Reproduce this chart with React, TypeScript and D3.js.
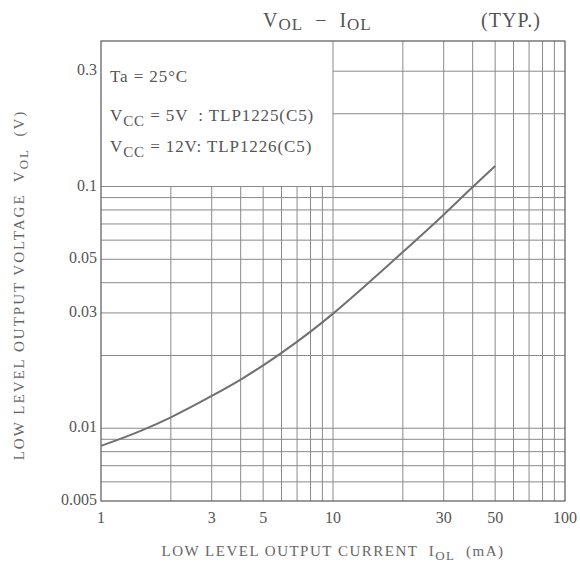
import React from "react"
import * as d3 from "d3"

// output current (mA) vs low level output voltage (V)
const currents = [1, 1.5, 2, 3, 4, 5, 6, 8, 10, 15, 20, 30, 40, 50]
const voltages = [0.00845, 0.0098, 0.0111, 0.0136, 0.0159, 0.0182, 0.0205, 0.0251, 0.0298, 0.0418, 0.0536, 0.0765, 0.0995, 0.1215]

const xTickLabels = [1, 3, 5, 10, 30, 50, 100]
const yTickLabels = [0.005, 0.01, 0.03, 0.05, 0.1, 0.3]
const legendLines = ["Ta = 25°C", "5V  : TLP1225(C5)", "12V: TLP1226(C5)"]

const W = 580
const H = 566
const margin = { left: 101, right: 15, top: 41, bottom: 65 }
const font = "'Liberation Serif', 'DejaVu Serif', serif"
const ink = "#555"
const gridColor = "#8a8a8a"
const pre = { whiteSpace: "pre" as const }

export default function App() {
  const x = d3.scaleLog().domain([1, 100]).range([margin.left, W - margin.right])
  const y = d3.scaleLog().domain([0.005, 0.4]).range([H - margin.bottom, margin.top])

  const pts: [number, number][] = currents.map((c, i) => [x(c), y(voltages[i])])
  const path = d3.line().curve(d3.curveMonotoneX)(pts) || ""

  // legend area (1..10 mA, 0.1..0.4 V) has no grid
  const vLines = x.ticks().filter(v => v > 1 && v < 100)
  const hLines = y.ticks().filter(v => v > 0.005 && v < 0.4)

  const x0 = x.range()[0], x1 = x.range()[1]
  const yb = y.range()[0], yt = y.range()[1]

  return (
    <svg width={W} height={H} style={{ position: "absolute", left: 0, top: 0, background: "#fff" }}>
      <g stroke={gridColor} strokeWidth={1}>
        {vLines.map(v => (
          <line key={"v" + v} x1={x(v)} x2={x(v)} y1={yb} y2={v < 10 ? y(0.1) : yt} />
        ))}
        {hLines.map(v => (
          <line key={"h" + v} x1={v > 0.1 ? x(10) : x0} x2={x1} y1={y(v)} y2={y(v)} />
        ))}
      </g>
      <rect x={x0} y={yt} width={x1 - x0} height={yb - yt} fill="none" stroke="#666" strokeWidth={1.3} />

      <path d={path} fill="none" stroke="#707070" strokeWidth={2} />

      <g fontFamily={font} fill={ink} fontSize={16}>
        {yTickLabels.map(v => (
          <text key={"yl" + v} x={x0 - 4} y={y(v) + 4} textAnchor="end">{v}</text>
        ))}
        {xTickLabels.map(v => (
          <text key={"xl" + v} x={x(v)} y={yb + 22} textAnchor="middle">{v}</text>
        ))}
      </g>

      <g fontFamily={font} fill={ink} fontSize={17} letterSpacing={0.9}>
        <text x={110} y={82} style={pre}>{legendLines[0]}</text>
        <text x={110} y={121} style={pre}>V<tspan fontSize={15} dy={5}>CC</tspan><tspan dy={-5}> = {legendLines[1]}</tspan></text>
        <text x={110} y={152} style={pre}>V<tspan fontSize={15} dy={5}>CC</tspan><tspan dy={-5}> = {legendLines[2]}</tspan></text>
      </g>

      <g fontFamily={font} fill={ink} fontSize={20} letterSpacing={1}>
        <text x={263} y={27} style={pre}>V<tspan fontSize={17} dy={3}>OL</tspan><tspan dy={-3}>  −  I</tspan><tspan fontSize={17} dy={3}>OL</tspan></text>
        <text x={541} y={27} textAnchor="end">(TYP.)</text>
      </g>

      <g fontFamily={font} fill="#666" fontSize={15} letterSpacing={1.5}>
        <text x={333} y={556} textAnchor="middle" style={pre}>
          LOW LEVEL OUTPUT CURRENT  I<tspan fontSize={13} dy={4}>OL</tspan><tspan dy={-4}>  (mA)</tspan>
        </text>
        <text transform={`translate(24, 285) rotate(-90)`} textAnchor="middle" letterSpacing={2} style={pre}>
          LOW LEVEL OUTPUT VOLTAGE  V<tspan fontSize={13} dy={4}>OL</tspan><tspan dy={-4}>  (V)</tspan>
        </text>
      </g>
    </svg>
  )
}
